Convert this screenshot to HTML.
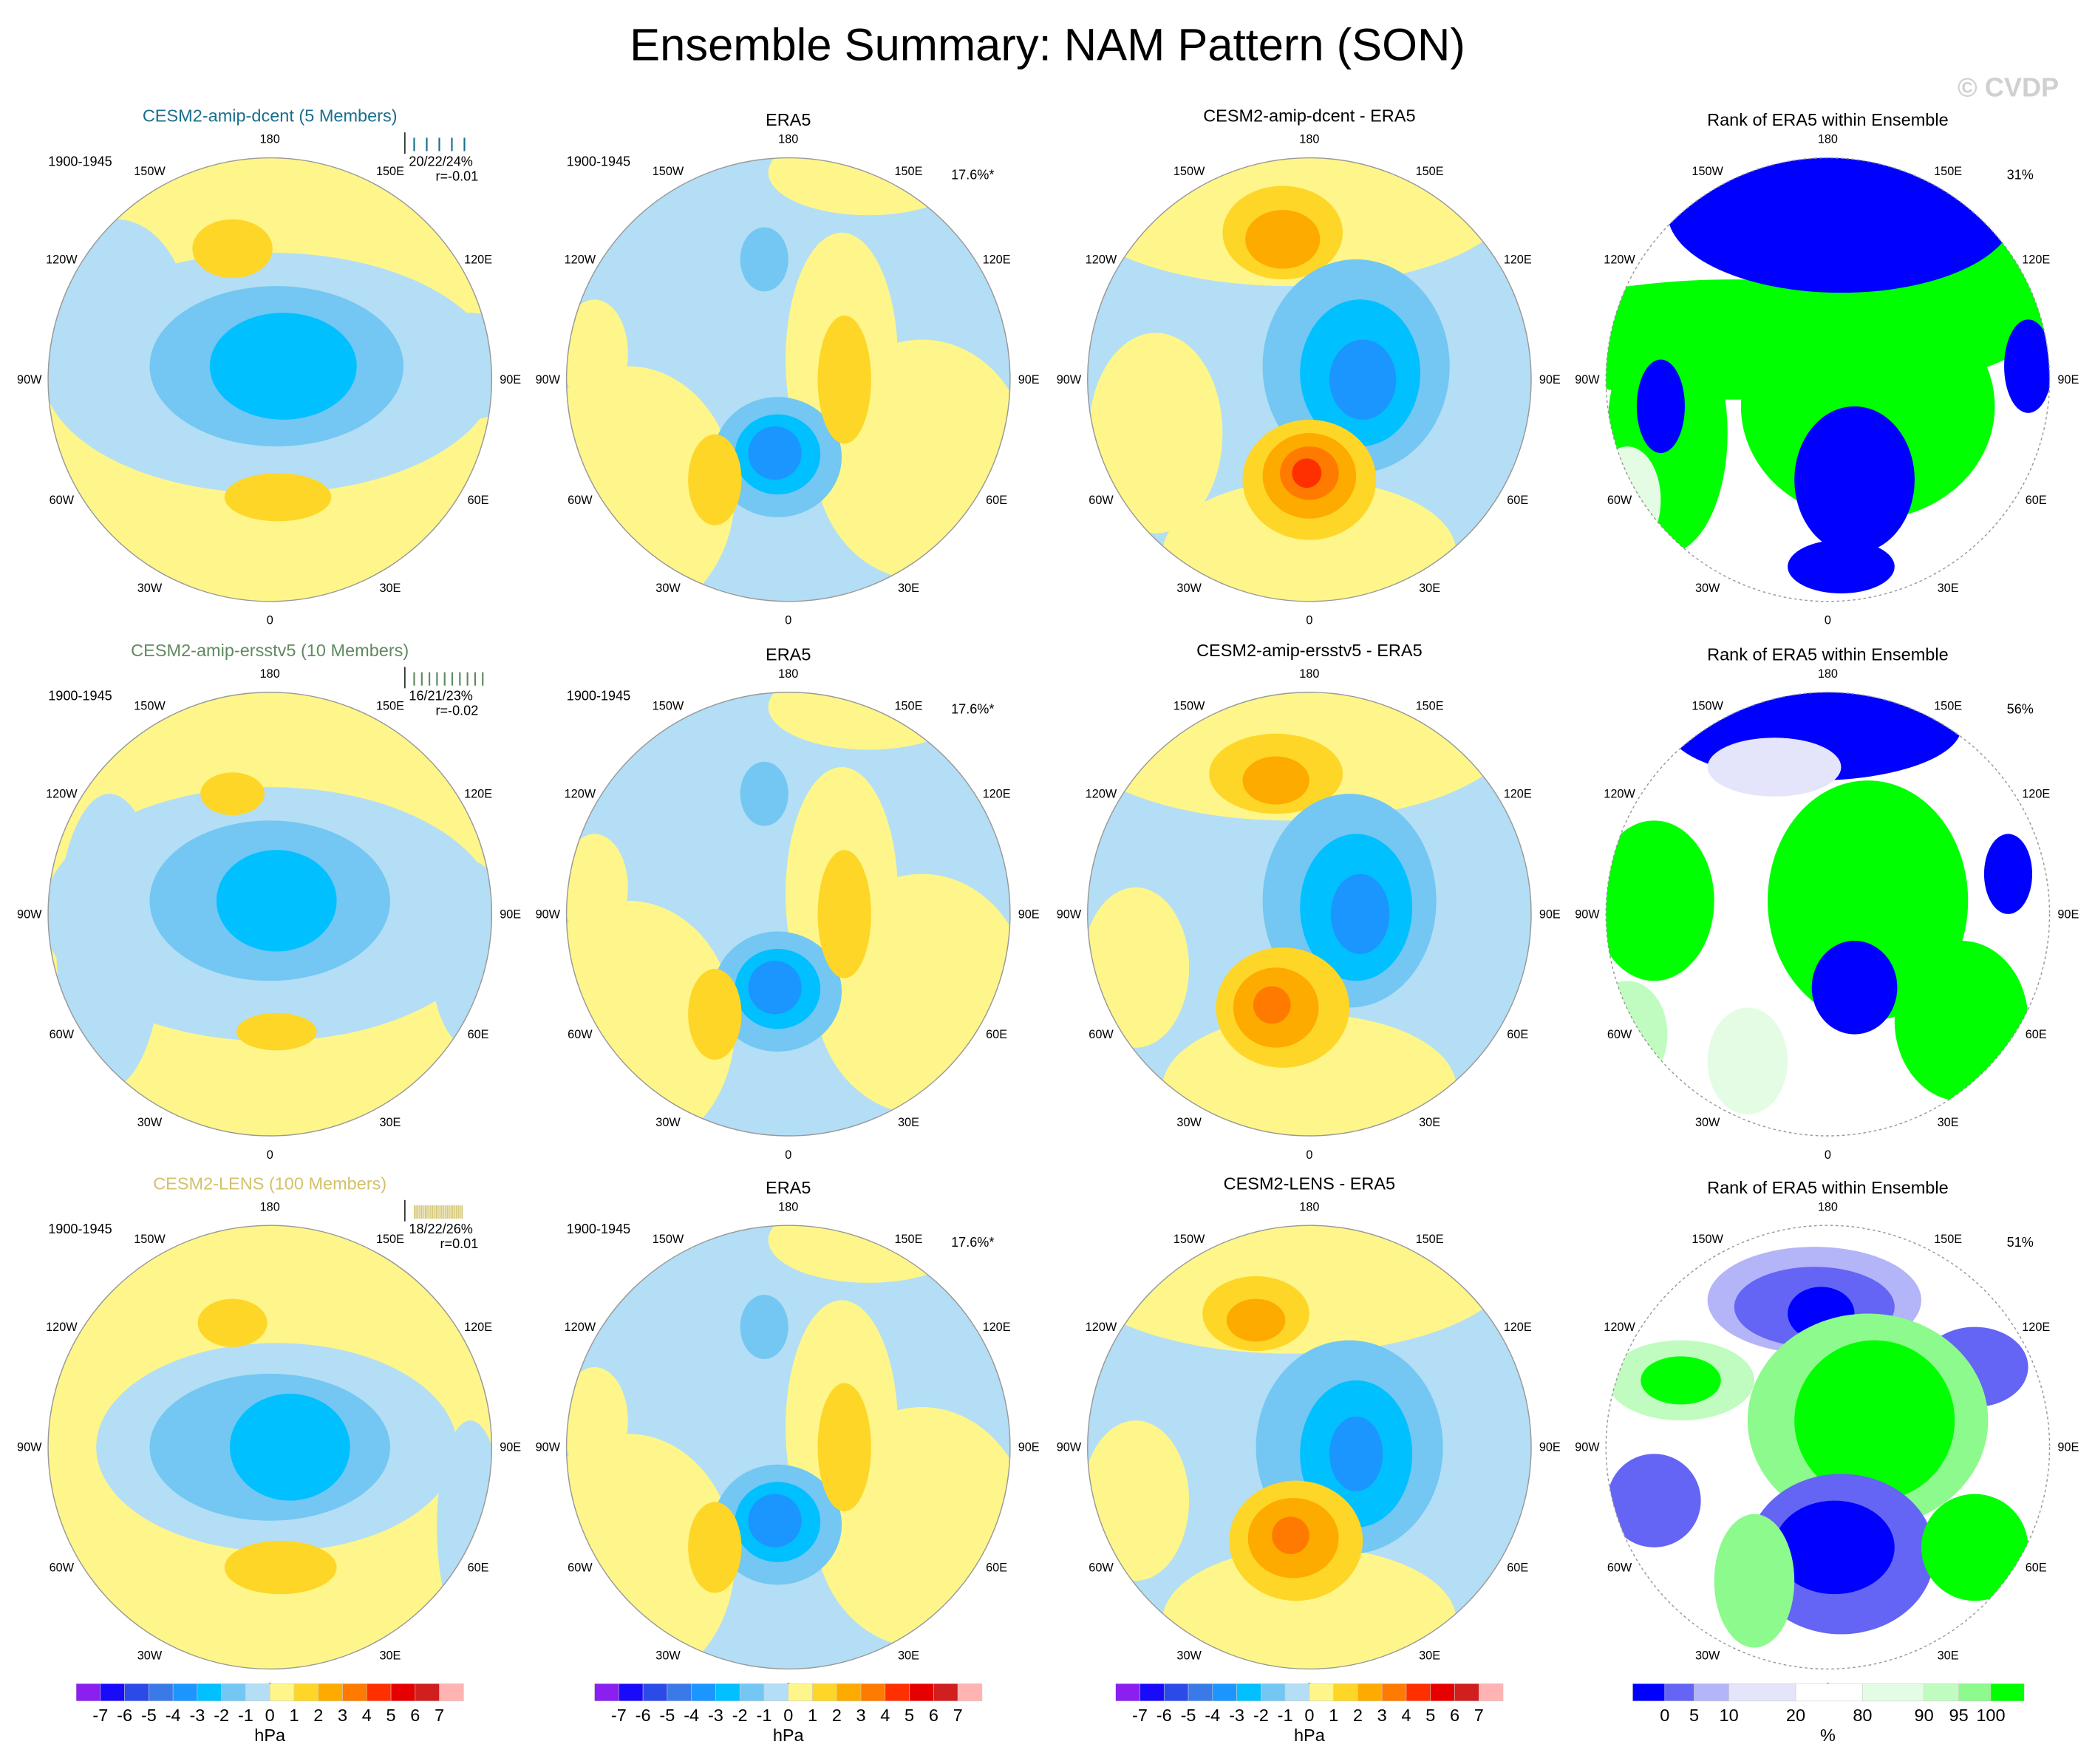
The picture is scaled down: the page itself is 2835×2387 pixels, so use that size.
<!DOCTYPE html>
<html><head><meta charset="utf-8"><style>
html,body{margin:0;padding:0;background:#fff}
svg{display:block;font-family:"Liberation Sans",sans-serif}
</style></head><body>
<svg id="fig" width="2835" height="2387" viewBox="0 0 1568 1320" xmlns="http://www.w3.org/2000/svg">
<text x="784" y="45" font-size="34" text-anchor="middle">Ensemble Summary: NAM Pattern (SON)</text>
<text x="1541" y="72" font-size="20" font-weight="bold" fill="#d0d0d0" text-anchor="end">© CVDP</text>
</svg>
<script>
// Colour levels for hPa and rank colorbars
const hpaColors = ["#8a1ff0","#1a0afa","#2b4ae8","#3a7ae8","#1c96ff","#00c0ff","#73c7f2","#b3def5","#fef68a","#fed628","#feab00","#fe7a00","#fe3000","#e60000","#d11e1e","#ffb3b3"];
const hpaTicks = ["-7","-6","-5","-4","-3","-2","-1","0","1","2","3","4","5","6","7"];
const rankColors = ["#0000ff","#6464f5","#b4b4f8","#e4e4fa","#ffffff","#e4fce4","#c0fcc0","#8cfa8c","#00ff00"];
const rankEdges = [0,5,10,20,80,90,95,100];
const rankTicks = ["0","5","10","20","80","90","95","100"];
const rowTitles = ["CESM2-amip-dcent (5 Members)","CESM2-amip-ersstv5 (10 Members)","CESM2-LENS (100 Members)"];
const rowTitleColors = ["#1a6e8e","#5f8a5f","#d2c26a"];
const diffTitles = ["CESM2-amip-dcent - ERA5","CESM2-amip-ersstv5 - ERA5","CESM2-LENS - ERA5"];
const pctTexts = ["20/22/24%","16/21/23%","18/22/26%"];
const rTexts = ["r=-0.01","r=-0.02","r=0.01"];
const rankPct = ["31%","56%","51%"];
const lonLabels = ["0","30E","60E","90E","120E","150E","180","150W","120W","90W","60W","30W"];
// Pattern blobs: [dx, dy, rx, ry, level]; level for hPa: -5..-1 blue, 1..5 warm; rank: "r0".."r8"
const modelBlobs = [
 [[0,-5,170,90,-1],[-115,-40,55,80,-1],[150,-10,40,40,-1],[5,-10,95,60,-2],[10,-10,55,40,-3],[-28,-98,30,22,2],[6,88,40,18,2]],
 [[0,0,170,95,-1],[-120,20,40,110,-1],[150,30,30,70,-1],[0,-10,90,60,-2],[5,-10,45,38,-3],[-28,-90,24,16,2],[5,88,30,14,2]],
 [[5,0,135,78,-1],[150,60,25,80,-1],[0,0,90,55,-2],[15,0,45,40,-3],[-28,-93,26,18,2],[8,90,42,20,2]]
];
const eraBlobs = [[-120,85,80,95,1],[100,60,80,90,1],[40,-15,42,95,1],[60,-155,75,32,1],[-145,-20,25,40,1],[-18,-90,18,24,-2],[-8,58,48,45,-2],[-8,56,32,30,-3],[-10,55,20,20,-4],[42,0,20,48,2],[-55,75,20,34,2]];
const diffBlobs = [
 [[-15,-140,170,70,1],[-115,40,50,75,1],[0,130,110,55,1],[-20,-110,45,35,2],[-20,-105,28,22,3],[35,-10,70,80,-2],[38,-5,45,55,-3],[40,0,25,30,-4],[0,75,50,45,2],[0,72,35,32,3],[0,70,22,20,4],[-2,70,11,11,5]],
 [[-15,-140,170,70,1],[-130,40,40,60,1],[0,130,110,55,1],[-25,-105,50,30,2],[-25,-100,25,18,3],[30,-10,65,80,-2],[35,-5,42,55,-3],[38,0,22,30,-4],[-20,70,50,45,2],[-25,70,32,30,3],[-28,68,14,14,4]],
 [[-15,-140,170,70,1],[-130,40,40,60,1],[0,130,110,55,1],[-40,-100,40,28,2],[-40,-95,22,16,3],[30,0,70,80,-2],[35,5,42,55,-3],[35,5,20,28,-4],[-10,70,50,45,2],[-12,68,34,30,3],[-14,66,14,14,4]]
];
const rankBlobs = [
 [[-70,-30,170,45,"r8"],[-120,40,45,90,"r8"],[30,20,95,85,"r8"],[60,-60,110,60,"r8"],[10,-125,130,60,"r0"],[150,-10,18,35,"r0"],[-125,20,18,35,"r0"],[20,75,45,55,"r0"],[10,140,40,20,"r0"],[-150,90,25,40,"r5"]],
 [[-130,-10,45,60,"r8"],[30,-10,75,90,"r8"],[-10,-140,110,40,"r0"],[-40,-110,50,22,"r3"],[135,-30,18,30,"r0"],[20,55,32,35,"r0"],[-150,90,30,40,"r6"],[100,80,50,60,"r8"],[-60,110,30,40,"r5"]],
 [[-10,-110,80,40,"r2"],[-10,-105,60,30,"r1"],[-5,-100,25,20,"r0"],[110,-60,40,30,"r1"],[-110,-50,55,30,"r6"],[-110,-50,30,18,"r8"],[30,-20,90,80,"r7"],[35,-20,60,60,"r8"],[-130,40,35,35,"r1"],[10,80,70,60,"r1"],[5,75,45,35,"r0"],[-55,100,30,50,"r7"],[110,75,40,40,"r8"]]
];
const colCx = [202,590,980,1368];
const rowCy = [284,684,1083];
const R = 166;
const NS = "http://www.w3.org/2000/svg";
const svg = document.getElementById("fig");
function mk(tag, attrs, parent){
  const e = document.createElementNS(NS, tag);
  for (const k in attrs) e.setAttribute(k, attrs[k]);
  (parent||svg).appendChild(e); return e;
}
function colorOf(l){
  if (typeof l === "string") return rankColors[+l.slice(1)];
  return l < 0 ? hpaColors[7 + l + 1] : hpaColors[7 + l];
}
function txt(x,y,s,size,anchor,fill,name){
  const t = mk("text",{x:x,y:y,"font-size":size,"text-anchor":anchor||"middle",fill:fill||"#000"});
  
  
  t.textContent = s; return t;
}
function drawMap(r,c,bg,blobs,name){
  const cx = colCx[c], cy = rowCy[r];
  const id = "clip"+r+c;
  const cp = mk("clipPath",{id:id}); mk("circle",{cx:cx,cy:cy,r:R},cp);
  const g = mk("g",{"clip-path":"url(#"+id+")"});
  
  
  mk("rect",{x:cx-R,y:cy-R,width:2*R,height:2*R,fill:colorOf(bg)},g);
  blobs.forEach(b=>{
    const e = mk("ellipse",{cx:cx+b[0],cy:cy+b[1],rx:b[2],ry:b[3],fill:colorOf(b[4])},g);
    
    
  });
  const o = mk("circle",{cx:cx,cy:cy,r:R,fill:"none",stroke:"#999","stroke-width":0.8,"stroke-dasharray":c==3?"2 2":"none"});
  
  
  lonLabels.forEach((s,i)=>{
    const a = i*30*Math.PI/180;
    const rr = 180;
    txt(cx+rr*Math.sin(a), cy+rr*Math.cos(a)+3, s, 9, "middle", "#000", "longitude-label");
  });
}
for (let r=0;r<3;r++){
  const ty = rowCy[r]-193;
  txt(colCx[0],ty,rowTitles[r],13,"middle",rowTitleColors[r],"model-panel-title");
  txt(colCx[1],ty+3,"ERA5",13,"middle","#000","era5-panel-title");
  txt(colCx[2],ty,diffTitles[r],13,"middle","#000","difference-panel-title");
  txt(colCx[3],ty+3,"Rank of ERA5 within Ensemble",13,"middle","#000","rank-panel-title");
  txt(60,rowCy[r]-160,"1900-1945",10,"middle","#000","period-label");
  txt(448,rowCy[r]-160,"1900-1945",10,"middle","#000","period-label");
  txt(330,rowCy[r]-160,pctTexts[r],10,"middle","#000","pct-variance-label");
  txt(358,rowCy[r]-149,rTexts[r],10,"end","#000","pattern-correlation-label");
  txt(728,rowCy[r]-150,"17.6%*",10,"middle","#000","era5-variance-label");
  txt(1512,rowCy[r]-150,rankPct[r],10,"middle","#000","rank-pct-label");
  const tk = mk("line",{x1:303,y1:ty+8,x2:303,y2:ty+24,stroke:"#333","stroke-width":1});
  
  
  const n = [5,10,40][r];
  for (let k=0;k<n;k++){
    const x = 310 + (k*37/n) + (r==2?0:k*2);
    const l = mk("line",{x1:x,y1:ty+12,x2:x,y2:ty+22,stroke:rowTitleColors[r],"stroke-width":r==2?0.6:1.2});
    
    
  }
  drawMap(r,0,1,modelBlobs[r],"model-map");
  drawMap(r,1,-1,eraBlobs,"era5-map");
  drawMap(r,2,-1,diffBlobs[r],"difference-map");
  drawMap(r,3,"r4",rankBlobs[r],"rank-map");
}
for (let c=0;c<3;c++){
  const x0 = colCx[c]-145, w = 290/16;
  hpaColors.forEach((col,i)=>{
    const b = mk("rect",{x:x0+i*w,y:1260,width:w,height:13,fill:col,stroke:"#ccc","stroke-width":0.3});
    
    
  });
  hpaTicks.forEach((s,i)=>txt(x0+(i+1)*w,1288,s,13,"middle","#000","colorbar-tick"));
  txt(colCx[c],1303,"hPa",13,"middle","#000","colorbar-unit");
}
{
  const xs = [1222,1246,1268,1294,1344,1394,1440,1466,1490,1515];
  rankColors.forEach((col,i)=>{
    const b = mk("rect",{x:xs[i],y:1260,width:xs[i+1]-xs[i],height:13,fill:col,stroke:"#ccc","stroke-width":0.3});
    
    
  });
  rankTicks.forEach((s,i)=>txt(xs[i+1],1288,s,13,"middle","#000","rank-colorbar-tick"));
  txt(1368,1303,"%",13,"middle","#000","rank-colorbar-unit");
}
</script>
</body></html>
